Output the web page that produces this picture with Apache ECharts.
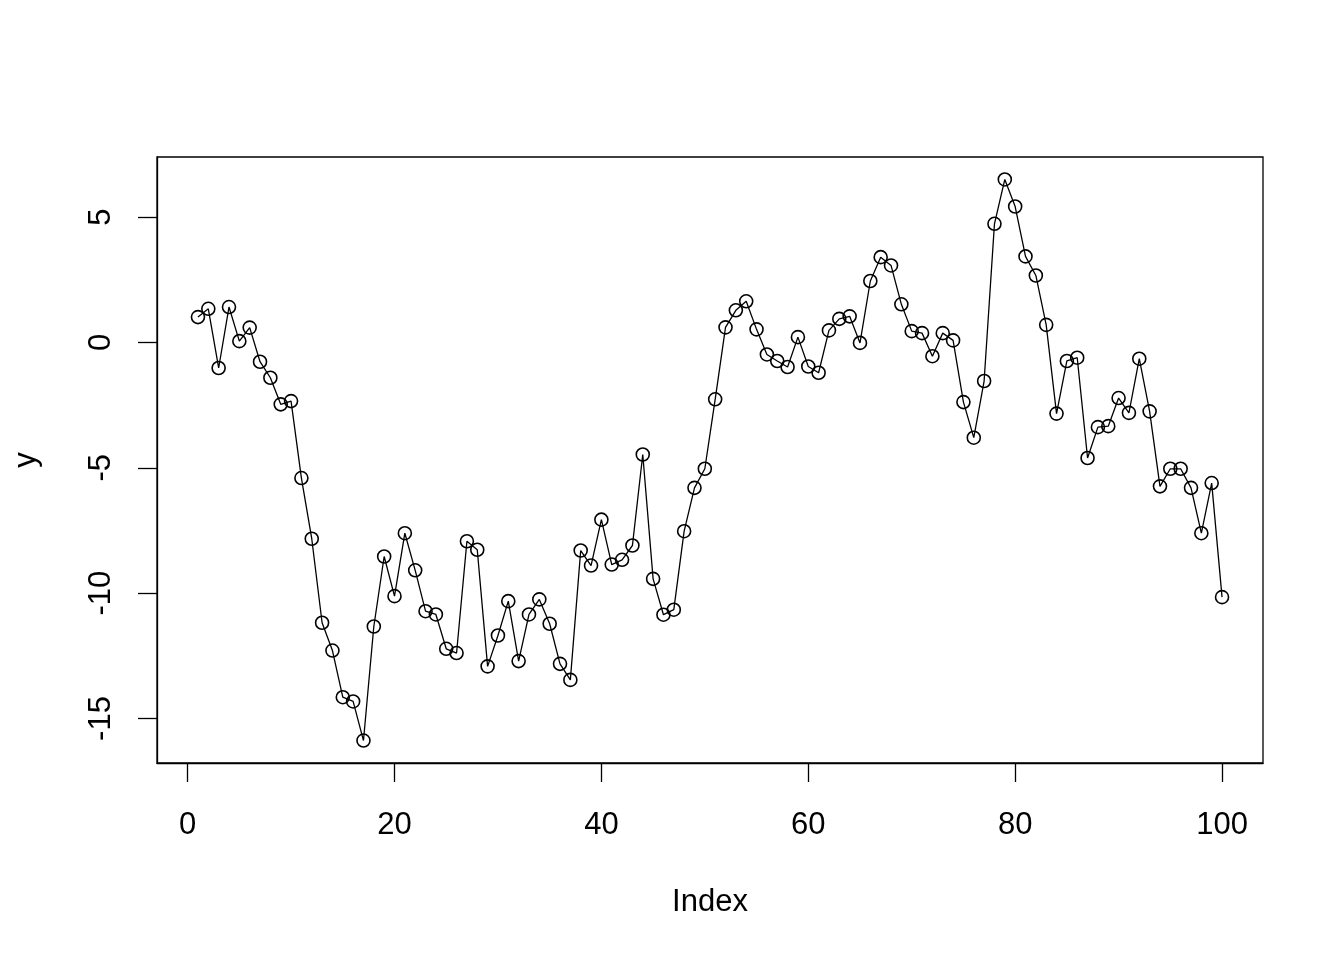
<!DOCTYPE html>
<html>
<head>
<meta charset="utf-8">
<script src="https://cdn.jsdelivr.net/npm/echarts@6/dist/echarts.min.js"></script>
<style>
html,body{margin:0;padding:0;background:#fff;}
#chart{width:1344px;height:960px;}
</style>
</head>
<body>
<div id="chart"></div>
<script>
const indexValues = Array.from({length: 100}, (_, i) => i + 1);
const yValues = [
  1.01, 1.34, -1.02, 1.41, 0.05, 0.59, -0.77, -1.41, -2.47, -2.34,
  -5.41, -7.83, -11.18, -12.29, -14.15, -14.32, -15.88, -11.33, -8.54, -10.12,
  -7.61, -9.09, -10.72, -10.85, -12.22, -12.39, -7.93, -8.27, -12.92, -11.69,
  -10.32, -12.71, -10.85, -10.25, -11.22, -12.82, -13.46, -8.30, -8.90, -7.07,
  -8.86, -8.67, -8.10, -4.47, -9.43, -10.86, -10.66, -7.53, -5.80, -5.04,
  -2.27, 0.60, 1.28, 1.64, 0.52, -0.48, -0.74, -0.98, 0.21, -0.96,
  -1.21, 0.48, 0.94, 1.04, -0.02, 2.45, 3.40, 3.07, 1.52, 0.45,
  0.37, -0.55, 0.37, 0.08, -2.38, -3.80, -1.54, 4.73, 6.50, 5.42,
  3.43, 2.67, 0.70, -2.84, -0.74, -0.61, -4.61, -3.38, -3.34, -2.22,
  -2.81, -0.65, -2.75, -5.74, -5.04, -5.04, -5.80, -7.61, -5.61, -10.16
];
const xTicks = [0, 20, 40, 60, 80, 100];
const yTicks = [-15, -10, -5, 0, 5];
const xLabel = 'Index';
const yLabel = 'y';

const seriesData = indexValues.map((x, i) => [x, yValues[i]]);
const FONT = "'Liberation Sans', Arial, sans-serif";

const chart = echarts.init(document.getElementById('chart'), null, {renderer: 'canvas'});
chart.setOption({
  backgroundColor: '#ffffff',
  animation: false,
  grid: {
    left: 157, top: 157, width: 1106, height: 606,
    show: true, borderColor: '#000', borderWidth: 1.3, backgroundColor: 'transparent'
  },
  xAxis: {
    type: 'value',
    min: -2.96, max: 103.96,
    name: xLabel,
    nameLocation: 'middle',
    nameGap: 124,
    nameTextStyle: {fontFamily: FONT, fontSize: 31, color: '#000'},
    axisLine: {show: true, onZero: false, lineStyle: {color: '#000', width: 1.3}},
    splitLine: {show: false},
    axisTick: {show: true, inside: false, length: 19, lineStyle: {color: '#000', width: 1.3}, customValues: xTicks},
    axisLabel: {show: true, margin: 47, fontFamily: FONT, fontSize: 31, color: '#000', customValues: xTicks}
  },
  yAxis: {
    type: 'value',
    min: -16.775, max: 7.395,
    name: yLabel,
    nameLocation: 'middle',
    nameGap: 115,
    nameRotate: 90,
    nameTextStyle: {fontFamily: FONT, fontSize: 31, color: '#000'},
    axisLine: {show: true, onZero: false, lineStyle: {color: '#000', width: 1.3}},
    splitLine: {show: false},
    axisTick: {show: true, inside: false, length: 19, lineStyle: {color: '#000', width: 1.3}, customValues: yTicks},
    axisLabel: {show: true, rotate: 90, margin: 40, fontFamily: FONT, fontSize: 31, color: '#000', customValues: yTicks}
  },
  series: [{
    type: 'line',
    data: seriesData,
    symbol: 'circle',
    symbolSize: 13,
    showAllSymbol: true,
    lineStyle: {color: '#000', width: 1.3},
    itemStyle: {color: 'transparent', borderColor: '#000', borderWidth: 1.6},
    emphasis: {disabled: true}
  }]
});
</script>
</body>
</html>
